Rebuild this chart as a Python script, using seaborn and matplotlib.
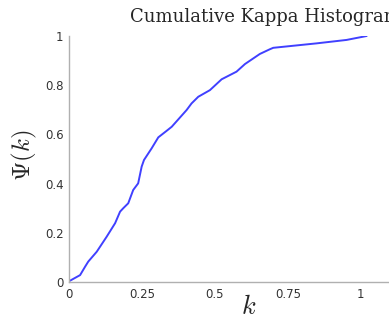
import matplotlib
matplotlib.use("Agg")
import matplotlib.pyplot as plt
import seaborn as sns

# cumulative kappa histogram
kappa = [0.003, 0.038, 0.055, 0.066, 0.095, 0.129, 0.158, 0.175, 0.186, 0.203,
         0.220, 0.237, 0.249, 0.257, 0.283, 0.306, 0.334, 0.352, 0.403, 0.420,
         0.443, 0.483, 0.523, 0.574, 0.603, 0.654, 0.688, 0.700, 0.848, 0.951, 1.02]
psi = [0.005, 0.028, 0.062, 0.083, 0.123, 0.184, 0.239, 0.286, 0.300, 0.320,
       0.374, 0.401, 0.469, 0.496, 0.543, 0.588, 0.614, 0.631, 0.699, 0.726,
       0.753, 0.780, 0.824, 0.855, 0.886, 0.927, 0.946, 0.952, 0.970, 0.984, 1.0]
xticks = [0, 0.25, 0.5, 0.75, 1]
xtick_labels = ["0", "0.25", "0.5", "0.75", "1"]
yticks = [0, 0.2, 0.4, 0.6, 0.8, 1]
ytick_labels = ["0", "0.2", "0.4", "0.6", "0.8", "1"]

sns.set_style("white")
plt.rcParams["mathtext.fontset"] = "cm"

fig = plt.figure(figsize=(3.89, 3.2), dpi=100)
ax = fig.add_axes([69 / 389, 38 / 320, 321 / 389, 246 / 320])

sns.lineplot(x=kappa, y=psi, ax=ax, color="#4040ff", linewidth=1.4)

ax.set_xlim(0, 1.1)
ax.set_ylim(0, 1)
ax.set_xticks(xticks)
ax.set_xticklabels(xtick_labels)
ax.set_yticks(yticks)
ax.set_yticklabels(ytick_labels)

for side in ["top", "right"]:
    ax.spines[side].set_visible(False)
for side in ["left", "bottom"]:
    ax.spines[side].set_color("#b0b0b0")
    ax.spines[side].set_linewidth(1.0)
ax.tick_params(direction="in", length=4, width=1, color="#b0b0b0",
               labelsize=8.5, labelcolor="#333333", pad=4)

ax.set_xlabel("")
ax.set_ylabel("")
fig.text(249 / 389, 1 - 307 / 320, "$k$", fontsize=19, ha="center", va="center")
fig.text(24 / 389, 1 - 155 / 320, r"$\Psi(k)$", fontsize=18, rotation=90,
         ha="center", va="center")
fig.text(130 / 389, 1 - 22 / 320, "Cumulative Kappa Histogram", fontsize=13,
         family="DejaVu Serif", ha="left", va="baseline")

fig.savefig("out.png", dpi=100)
